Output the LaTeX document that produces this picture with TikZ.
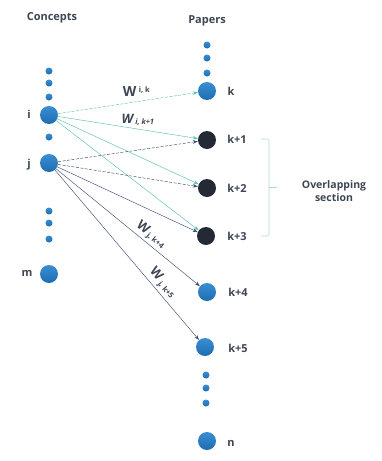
\documentclass[tikz,border=0pt]{standalone}
\usepackage{fontspec}
\setmainfont{Open Sans}
\usetikzlibrary{arrows.meta}
\definecolor{ballblue}{HTML}{1E6CB0}
\definecolor{balltop}{HTML}{3A8ED2}
\definecolor{ballblack}{HTML}{232A35}
\definecolor{txt}{HTML}{3E4654}
\definecolor{edgegreen}{HTML}{5CC2A8}
\definecolor{edgedark}{HTML}{3F4C70}
\definecolor{brace}{HTML}{A6DDD3}
\tikzset{
  big/.style={circle, minimum size=18pt, inner sep=0pt, top color=balltop, bottom color=ballblue, draw=none},
  blk/.style={circle, minimum size=18pt, inner sep=0pt, fill=ballblack, draw=none},
  dotn/.style={circle, minimum size=7pt, inner sep=0pt, top color=balltop, bottom color=ballblue, draw=none},
  lbl/.style={text=txt, font=\bfseries\fontsize{11}{13}\selectfont, inner sep=0pt},
  ge/.style={draw=edgegreen, line width=0.45pt, -{Stealth[length=5pt,width=3.5pt]}},
  de/.style={draw=edgedark, line width=0.45pt, -{Stealth[length=5pt,width=3.5pt]}},
  dsh/.style={dash pattern=on 3pt off 1.5pt},
  wl/.style={text=txt, inner sep=0pt, font=\bfseries}
}
\begin{document}
\begin{tikzpicture}[x=1pt,y=-1pt]
\useasboundingbox (0,0) rectangle (382,461);
% titles
\node[lbl] (tc) at (52,18) {Concepts};
\node[lbl] (tp) at (207,21) {Papers};
% left column
\node[dotn] (l1) at (49,71) {};
\node[dotn] (l2) at (49,83) {};
\node[dotn] (l3) at (49,97) {};
\node[big] (i) at (49,115) {};
\node[dotn] (l4) at (49,137) {};
\node[big] (j) at (49,163) {};
\node[dotn] (l5) at (49,211) {};
\node[dotn] (l6) at (49,223) {};
\node[dotn] (l7) at (49,239) {};
\node[big] (m) at (49,274) {};
\node[lbl] (li) at (29,114) {i};
\node[lbl] (lj) at (29,165) {j};
\node[lbl] (lm) at (27,273) {m};
% right column
\node[dotn] (r1) at (207,45) {};
\node[dotn] (r2) at (207,58) {};
\node[dotn] (r3) at (207,73) {};
\node[big] (k) at (207,91) {};
\node[blk] (k1) at (207,140) {};
\node[blk] (k2) at (207,188) {};
\node[blk] (k3) at (206,236) {};
\node[big] (k4) at (207,292) {};
\node[big] (k5) at (205,347) {};
\node[dotn] (r4) at (206,375) {};
\node[dotn] (r5) at (206,388) {};
\node[dotn] (r6) at (206,403) {};
\node[big] (n) at (207,441) {};
\node[lbl] (lk) at (231,91) {k};
\node[lbl] (lk1) at (237,139) {k+1};
\node[lbl] (lk2) at (237,188) {k+2};
\node[lbl] (lk3) at (237,236) {k+3};
\node[lbl] (lk4) at (238,292) {k+4};
\node[lbl] (lk5) at (238,348) {k+5};
\node[lbl] (ln) at (231,443) {n};
% edges from i
\draw[ge,dsh] (i) -- (k) node[wl, pos=0.56, above=5pt] {\fontsize{14}{14}\selectfont W\,\raisebox{4pt}{\fontsize{7.5}{8}\selectfont i, k}};
\draw[ge] (i) -- (k1) node[wl, pos=0.57, above=3pt] {\fontsize{13}{14}\selectfont\itshape W\,\raisebox{-1.5pt}{\fontsize{7.5}{8}\selectfont i, k+1}};
\draw[ge] (i) -- (k2);
\draw[ge] (i) -- (k3);
% edges from j
\draw[de,dsh] (j) -- (k1);
\draw[de,dsh] (j) -- (k2);
\draw[de] (j) -- (k3);
\draw[de] (j) -- (k4) node[wl, pos=0.62, above=2.5pt, sloped] {\fontsize{13}{14}\selectfont W\,\raisebox{-1.5pt}{\fontsize{7.5}{8}\selectfont j, k+4}};
\draw[de] (j) -- (k5) node[wl, pos=0.7, above=2.5pt, sloped] {\fontsize{13}{14}\selectfont W\,\raisebox{-1.5pt}{\fontsize{7.5}{8}\selectfont j, k+5}};
% bracket
\coordinate (bt) at (261,139);
\coordinate (bb) at (261,236);
\coordinate (bm) at (277,187);
\draw[brace, line width=0.6pt, rounded corners=1.5pt] (bt) -- (269,139) -- (269,236) -- (bb);
\draw[brace, line width=0.6pt] (269,187) -- (bm);
\node[lbl, align=center, font=\bfseries\fontsize{10.5}{13}\selectfont] (ov) at (334,191) {Overlapping\\section};
\end{tikzpicture}
\end{document}
